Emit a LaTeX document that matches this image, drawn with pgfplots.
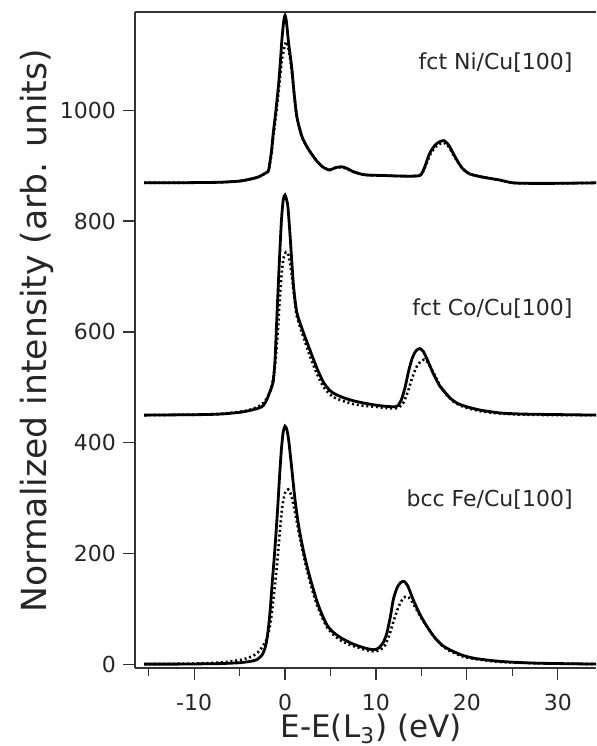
\documentclass[border=0pt]{standalone}
\usepackage{fontspec}
\setmainfont{DejaVu Sans}
\usepackage{pgfplots}
\pgfplotsset{compat=1.18}
\usepackage{pgfplotstable}

% Fe / Cu[100], solid and dotted
\pgfplotstableread{
x y
-15.5 1
-12 1
-9 1.5
-7 2
-5 3.5
-4 5.5
-3.5 7
-3 10
-2.5 18
-2.2 30
-2 45
-1.8 70
-1.6 105
-1.4 150
-1.2 190
-1 235
-0.8 285
-0.6 340
-0.4 388
-0.2 420
0 430
0.2 424
0.4 405
0.7 360
1.1 297
1.5 250
2.0 207
2.5 172
2.9 148
3.5 115
4.0 93
4.6 72
5.2 60
6.0 50
7.1 40
8.0 34
9.0 29
9.8 27
10.3 30
10.8 40
11.2 57
11.6 88
11.9 117
12.3 138
12.7 148
13.1 150
13.5 142
14.1 117
14.8 92
15.6 69
16.5 48
17.3 35
18.1 27
19.5 17
21 11
23.6 6
27 3
30 2
34.5 1
}\feS
\pgfplotstableread{
x y
-15.5 1
-10 2
-7 4
-5.5 7
-4.5 10
-3.5 16
-3 22
-2.5 32
-2 47
-1.6 75
-1.2 130
-0.9 177
-0.6 235
-0.3 285
0 310
0.35 316
0.7 305
1.1 275
1.5 240
2.0 200
2.5 165
2.9 140
3.5 108
4.0 88
4.6 68
5.2 56
6 45
7.1 36
8 31
9 26
9.9 24
10.5 27
11 35
11.5 55
12 82
12.5 105
13 120
13.4 123
13.8 118
14.3 104
15 84
15.8 64
16.5 48
17.3 34
18.1 25
19.5 15
21 10
23.6 5
27 3
30 2
34.5 1
}\feD

% Co / Cu[100]
\pgfplotstableread{
x y
-15.5 450
-12 450.5
-9 451
-7 452
-5 455
-4 458
-3 462
-2.4 467
-2.0 478
-1.6 495
-1.3 510
-1.1 550
-0.9 625
-0.65 718
-0.4 800
-0.2 838
0 847
0.3 828
0.55 775
0.75 725
0.95 680
1.3 635
2.0 600
2.75 567
3.5 535
4.2 510
4.9 495
5.5 488
6.5 481
7.5 476
8.6 472
10 468
11 466
12 465
12.4 467
12.8 478
13.2 500
13.6 530
14.0 553
14.4 566
14.8 570
15.2 565
15.7 548
16.3 525
17 503
17.4 495
18.2 480
19 471
20 465
21.5 459
23.6 454
26 452
30 451
34.5 450
}\coS
\pgfplotstableread{
x y
-15.5 450
-12 450.5
-9 451
-7 452.5
-5 456
-4 459
-3 465
-2.5 470
-2 480
-1.5 500
-1.1 540
-0.8 600
-0.5 680
-0.2 730
0.1 744
0.4 738
0.7 708
1.0 665
1.3 628
2.0 592
2.75 556
3.5 525
4.2 502
4.9 488
5.5 481
6.5 475
7.5 470
8.6 467
10 465
11 463
12 462
12.5 464
13 472
13.5 492
14 518
14.5 538
15 548
15.3 550
15.7 545
16.3 527
17 505
17.6 490
18.4 476
19.2 468
20 463
21.5 457
23.6 453
26 451
30 450
34.5 450
}\coD

% Ni / Cu[100]
\pgfplotstableread{
x y
-15.5 869
-12 869
-9 869.5
-7 870
-5 872
-4 875
-3 879
-2.4 884
-2.0 888
-1.8 892
-1.5 925
-1.3 958
-1.0 1000
-0.7 1048
-0.5 1090
-0.35 1126
-0.15 1160
0 1171
0.15 1160
0.4 1120
0.73 1078
1.0 1030
1.3 988
1.8 955
2.2 940
2.75 925
3.5 908
4.2 897
4.9 892
5.5 896
6.2 898
6.8 895
7.5 889
8.3 885
9 883
11 882
13 881
14.8 882
15.3 895
15.9 922
16.5 937
17.0 943
17.5 945
18.0 937
18.5 922
18.9 910
19.5 895
20.3 885
21.5 880
22.5 877
23.6 874
25 869
26.6 868
30 868
34.5 869
}\niS
\pgfplotstableread{
x y
-15.5 869
-12 869
-9 869.5
-7 870
-5 872
-4 875
-3 879
-2.4 884
-2.0 888
-1.8 891
-1.5 920
-1.3 950
-1.0 990
-0.7 1035
-0.35 1090
0 1118
0.2 1123
0.45 1105
0.73 1072
1.0 1030
1.3 988
1.8 955
2.2 940
2.75 925
3.5 908
4.2 897
4.9 892
5.5 896
6.2 897
6.8 894
7.5 889
8.3 885
9 883
11 882
13 881
14.8 882
15.3 893
15.9 918
16.5 933
17.0 939
17.5 941
18.0 934
18.5 920
18.9 909
19.5 895
20.3 885
21.5 880
22.5 877
23.6 874
25 869
26.6 868
30 868
34.5 869
}\niD

\begin{document}
\begin{tikzpicture}
\begin{axis}[
    name=ax,
    scale only axis,
    width=230.5pt,
    height=328pt,
    xmin=-16.5, xmax=34.2,
    ymin=-6, ymax=1177,
    axis x line=bottom,
    axis y line=left,
    axis line style={-, line width=0.6pt, black!80},
    tick align=outside,
    xtick={-10,0,10,20,30},
    minor xtick={-15,-5,5,15,25},
    ytick={0,200,400,600,800,1000},
    major tick length=6pt,
    minor tick length=4pt,
    every tick/.append style={line width=0.6pt, black!80},
    /pgf/number format/assume math mode=true,
    /pgf/number format/set thousands separator={},
    ticklabel style={font=\fontsize{11}{13}\selectfont, text=black!85},
    xticklabel style={inner sep=1pt, yshift=-6pt},
    xlabel={E-E(L\textsubscript{3}) (eV)},
    ylabel={Normalized intensity (arb. units)},
    xlabel style={at={(rel axis cs:0.512,-0.106)}, anchor=base, inner sep=1pt,
        font=\fontsize{15.5}{18}\selectfont, text=black!85},
    ylabel style={at={(rel axis cs:-0.212,0.514)}, anchor=center,
        font=\fontsize{17.3}{20}\selectfont, text=black!85},
    clip mode=individual,
]
\addplot[black, line width=1.3pt, dash pattern=on 1pt off 1.4pt, smooth, tension=0.4] table {\feD};
\addplot[black, line width=1.4pt, smooth, tension=0.4] table {\feS};
\addplot[black, line width=1.3pt, dash pattern=on 1pt off 1.4pt, smooth, tension=0.4] table {\coD};
\addplot[black, line width=1.4pt, smooth, tension=0.4] table {\coS};
\addplot[black, line width=1.3pt, dash pattern=on 1pt off 1.4pt, smooth, tension=0.4] table {\niD};
\addplot[black, line width=1.4pt, smooth, tension=0.4] table {\niS};
\draw[line width=0.6pt, black!80] (rel axis cs:0,1) -- (rel axis cs:1,1);
\node[anchor=east, font=\fontsize{11}{13}\selectfont, text=black!85] at (axis cs:32.4,1085) {fct Ni/Cu[100]};
\node[anchor=east, font=\fontsize{11}{13}\selectfont, text=black!85] at (axis cs:32.4,643) {fct Co/Cu[100]};
\node[anchor=east, font=\fontsize{11}{13}\selectfont, text=black!85] at (axis cs:32.4,297) {bcc Fe/Cu[100]};
\end{axis}
\pgfresetboundingbox
\path ([xshift=-67.5pt,yshift=-39pt]ax.south west) rectangle ([yshift=6pt]ax.north east);
\end{tikzpicture}
\end{document}
